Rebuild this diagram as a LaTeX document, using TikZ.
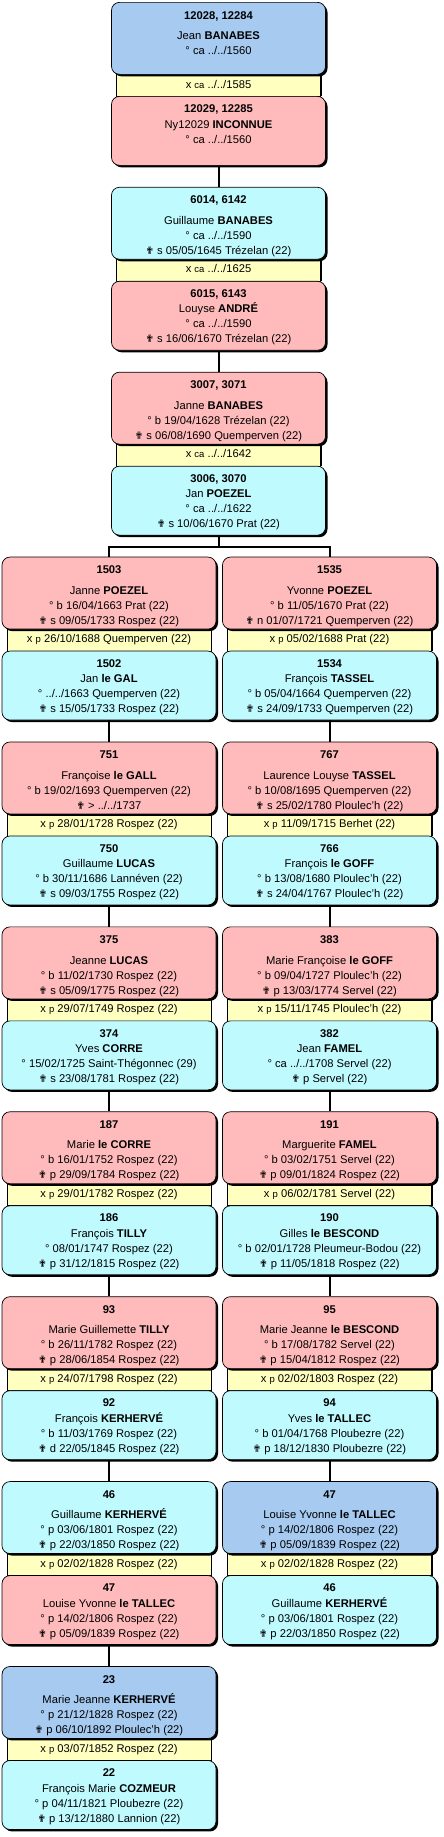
\documentclass[tikz,border=0pt]{standalone}
\usepackage{fontspec}
\setmainfont{Liberation Sans}
\newfontfamily\symfont{DejaVu Sans}
\usetikzlibrary{shadows}
\definecolor{cblue}{HTML}{A6CAF0}
\definecolor{cpink}{HTML}{FFBBBB}
\definecolor{ccyan}{HTML}{BFFAFF}
\definecolor{cyell}{HTML}{FFFFC0}
\newcommand\dth{{\symfont\fontsize{10}{10}\selectfont ✟}}
\newcommand\sm[1]{{\fontsize{9.5}{10}\selectfont #1}}
\tikzset{
 pbox/.style={draw=black, line width=0.7pt, rounded corners=8pt, minimum width=214pt, inner sep=0pt, anchor=north,
   general shadow={fill=black, shadow xshift=2pt, shadow yshift=-2pt}},
 upbox/.style={pbox, minimum height=72pt},
 lobox/.style={pbox, minimum height=69pt},
 mbar/.style={draw=black, line width=0.7pt, fill=cyell, minimum width=204pt, minimum height=22pt, inner sep=0pt, anchor=north,
   general shadow={fill=black, shadow xshift=1.2pt, shadow yshift=0pt}},
 txt/.style={font=\fontsize{11.2}{13}\selectfont, inner sep=0pt, anchor=base},
 conn/.style={line width=2pt, draw=black},
}
\newcommand\UpBox[8]{%
 \node[upbox, fill=#4] (#1) at (#2,#3) {};
 \node[txt] (#1-n) at (#2,#3+17) {\textbf{#5}};
 \node[txt] (#1-a) at (#2,#3+37.5) {#6};
 \node[txt] (#1-b) at (#2,#3+52.5) {#7};
 \if\relax\detokenize{#8}\relax\else\node[txt] (#1-c) at (#2,#3+67.5) {#8};\fi
}
\newcommand\LoBox[8]{%
 \node[lobox, fill=#4] (#1) at (#2,#3) {};
 \node[txt] (#1-n) at (#2,#3+16.5) {\textbf{#5}};
 \node[txt] (#1-a) at (#2,#3+32) {#6};
 \node[txt] (#1-b) at (#2,#3+47) {#7};
 \if\relax\detokenize{#8}\relax\else\node[txt] (#1-c) at (#2,#3+62) {#8};\fi
}
\newcommand\MBar[4]{%
 \node[mbar] (#1) at (#2,#3) {};
 \node[txt] (#1-t) at (#2,#3+14) {#4};
}
\begin{document}
\begin{tikzpicture}[x=1pt,y=-1pt]
\fill[white] (0,0) rectangle (444,1837);
\useasboundingbox (0,0) rectangle (444,1837);
% ---- centre column
\MBar{b12028}{218.5}{74}{x \sm{ca} ../../1585}
\UpBox{p12028}{218.5}{2}{cblue}{12028, 12284}{Jean \textbf{BANABES}}{° ca ../../1560}{}
\LoBox{p12029}{218.5}{96}{cpink}{12029, 12285}{Ny12029 \textbf{INCONNUE}}{° ca ../../1560}{}

\MBar{b6014}{218.5}{258.9}{x \sm{ca} ../../1625}
\UpBox{p6014}{218.5}{186.9}{ccyan}{6014, 6142}{Guillaume \textbf{BANABES}}{° ca ../../1590}{\dth{} s 05/05/1645 Trézelan (22)}
\LoBox{p6015}{218.5}{280.9}{cpink}{6015, 6143}{Louyse \textbf{ANDRÉ}}{° ca ../../1590}{\dth{} s 16/06/1670 Trézelan (22)}

\MBar{b3007}{218.5}{443.8}{x \sm{ca} ../../1642}
\UpBox{p3007}{218.5}{371.8}{cpink}{3007, 3071}{Janne \textbf{BANABES}}{° b 19/04/1628 Trézelan (22)}{\dth{} s 06/08/1690 Quemperven (22)}
\LoBox{p3006}{218.5}{465.8}{ccyan}{3006, 3070}{Jan \textbf{POEZEL}}{° ca ../../1622}{\dth{} s 10/06/1670 Prat (22)}

% ---- left column
\MBar{b1503}{109}{628.7}{x \sm{p} 26/10/1688 Quemperven (22)}
\UpBox{p1503}{109}{556.7}{cpink}{1503}{Janne \textbf{POEZEL}}{° b 16/04/1663 Prat (22)}{\dth{} s 09/05/1733 Rospez (22)}
\LoBox{p1502}{109}{650.7}{ccyan}{1502}{Jan \textbf{le GAL}}{° ../../1663 Quemperven (22)}{\dth{} s 15/05/1733 Rospez (22)}

\MBar{b751}{109}{813.6}{x \sm{p} 28/01/1728 Rospez (22)}
\UpBox{p751}{109}{741.6}{cpink}{751}{Françoise \textbf{le GALL}}{° b 19/02/1693 Quemperven (22)}{\dth{} > ../../1737}
\LoBox{p750}{109}{835.6}{ccyan}{750}{Guillaume \textbf{LUCAS}}{° b 30/11/1686 Lannéven (22)}{\dth{} s 09/03/1755 Rospez (22)}

\MBar{b375}{109}{998.5}{x \sm{p} 29/07/1749 Rospez (22)}
\UpBox{p375}{109}{926.5}{cpink}{375}{Jeanne \textbf{LUCAS}}{° b 11/02/1730 Rospez (22)}{\dth{} s 05/09/1775 Rospez (22)}
\LoBox{p374}{109}{1020.5}{ccyan}{374}{Yves \textbf{CORRE}}{° 15/02/1725 Saint-Thégonnec (29)}{\dth{} s 23/08/1781 Rospez (22)}

\MBar{b187}{109}{1183.4}{x \sm{p} 29/01/1782 Rospez (22)}
\UpBox{p187}{109}{1111.4}{cpink}{187}{Marie \textbf{le CORRE}}{° b 16/01/1752 Rospez (22)}{\dth{} p 29/09/1784 Rospez (22)}
\LoBox{p186}{109}{1205.4}{ccyan}{186}{François \textbf{TILLY}}{° 08/01/1747 Rospez (22)}{\dth{} p 31/12/1815 Rospez (22)}

\MBar{b93}{109}{1368.3}{x \sm{p} 24/07/1798 Rospez (22)}
\UpBox{p93}{109}{1296.3}{cpink}{93}{Marie Guillemette \textbf{TILLY}}{° b 26/11/1782 Rospez (22)}{\dth{} p 28/06/1854 Rospez (22)}
\LoBox{p92}{109}{1390.3}{ccyan}{92}{François \textbf{KERHERVÉ}}{° b 11/03/1769 Rospez (22)}{\dth{} d 22/05/1845 Rospez (22)}

\MBar{b46l}{109}{1553.2}{x \sm{p} 02/02/1828 Rospez (22)}
\UpBox{p46l}{109}{1481.2}{ccyan}{46}{Guillaume \textbf{KERHERVÉ}}{° p 03/06/1801 Rospez (22)}{\dth{} p 22/03/1850 Rospez (22)}
\LoBox{p47l}{109}{1575.2}{cpink}{47}{Louise Yvonne \textbf{le TALLEC}}{° p 14/02/1806 Rospez (22)}{\dth{} p 05/09/1839 Rospez (22)}

\MBar{b23}{109}{1738.1}{x \sm{p} 03/07/1852 Rospez (22)}
\UpBox{p23}{109}{1666.1}{cblue}{23}{Marie Jeanne \textbf{KERHERVÉ}}{° p 21/12/1828 Rospez (22)}{\dth{} p 06/10/1892 Ploulec'h (22)}
\LoBox{p22}{109}{1760.1}{ccyan}{22}{François Marie \textbf{COZMEUR}}{° p 04/11/1821 Ploubezre (22)}{\dth{} p 13/12/1880 Lannion (22)}

% ---- right column
\MBar{b1535}{329.5}{628.7}{x \sm{p} 05/02/1688 Prat (22)}
\UpBox{p1535}{329.5}{556.7}{cpink}{1535}{Yvonne \textbf{POEZEL}}{° b 11/05/1670 Prat (22)}{\dth{} n 01/07/1721 Quemperven (22)}
\LoBox{p1534}{329.5}{650.7}{ccyan}{1534}{François \textbf{TASSEL}}{° b 05/04/1664 Quemperven (22)}{\dth{} s 24/09/1733 Quemperven (22)}

\MBar{b767}{329.5}{813.6}{x \sm{p} 11/09/1715 Berhet (22)}
\UpBox{p767}{329.5}{741.6}{cpink}{767}{Laurence Louyse \textbf{TASSEL}}{° b 10/08/1695 Quemperven (22)}{\dth{} s 25/02/1780 Ploulec'h (22)}
\LoBox{p766}{329.5}{835.6}{ccyan}{766}{François \textbf{le GOFF}}{° b 13/08/1680 Ploulec'h (22)}{\dth{} s 24/04/1767 Ploulec'h (22)}

\MBar{b383}{329.5}{998.5}{x \sm{p} 15/11/1745 Ploulec'h (22)}
\UpBox{p383}{329.5}{926.5}{cpink}{383}{Marie Françoise \textbf{le GOFF}}{° b 09/04/1727 Ploulec'h (22)}{\dth{} p 13/03/1774 Servel (22)}
\LoBox{p382}{329.5}{1020.5}{ccyan}{382}{Jean \textbf{FAMEL}}{° ca ../../1708 Servel (22)}{\dth{} p Servel (22)}

\MBar{b191}{329.5}{1183.4}{x \sm{p} 06/02/1781 Servel (22)}
\UpBox{p191}{329.5}{1111.4}{cpink}{191}{Marguerite \textbf{FAMEL}}{° b 03/02/1751 Servel (22)}{\dth{} p 09/01/1824 Rospez (22)}
\LoBox{p190}{329.5}{1205.4}{ccyan}{190}{Gilles \textbf{le BESCOND}}{° b 02/01/1728 Pleumeur-Bodou (22)}{\dth{} p 11/05/1818 Rospez (22)}

\MBar{b95}{329.5}{1368.3}{x \sm{p} 02/02/1803 Rospez (22)}
\UpBox{p95}{329.5}{1296.3}{cpink}{95}{Marie Jeanne \textbf{le BESCOND}}{° b 17/08/1782 Servel (22)}{\dth{} p 15/04/1812 Rospez (22)}
\LoBox{p94}{329.5}{1390.3}{ccyan}{94}{Yves \textbf{le TALLEC}}{° b 01/04/1768 Ploubezre (22)}{\dth{} p 18/12/1830 Ploubezre (22)}

\MBar{b47r}{329.5}{1553.2}{x \sm{p} 02/02/1828 Rospez (22)}
\UpBox{p47r}{329.5}{1481.2}{cblue}{47}{Louise Yvonne \textbf{le TALLEC}}{° p 14/02/1806 Rospez (22)}{\dth{} p 05/09/1839 Rospez (22)}
\LoBox{p46r}{329.5}{1575.2}{ccyan}{46}{Guillaume \textbf{KERHERVÉ}}{° p 03/06/1801 Rospez (22)}{\dth{} p 22/03/1850 Rospez (22)}

% ---- connectors
\coordinate (fork) at (218.5,547);
\draw[conn] (p12029.south) -- (p6014.north);
\draw[conn] (p6015.south) -- (p3007.north);
\draw[conn] (p3006.south) -- (fork);
\draw[conn] (p1503.north) |- (fork) -| (p1535.north);
\draw[conn] (p1502.south) -- (p751.north);
\draw[conn] (p750.south) -- (p375.north);
\draw[conn] (p374.south) -- (p187.north);
\draw[conn] (p186.south) -- (p93.north);
\draw[conn] (p92.south) -- (p46l.north);
\draw[conn] (p47l.south) -- (p23.north);
\draw[conn] (p1534.south) -- (p767.north);
\draw[conn] (p766.south) -- (p383.north);
\draw[conn] (p382.south) -- (p191.north);
\draw[conn] (p190.south) -- (p95.north);
\draw[conn] (p94.south) -- (p47r.north);
\end{tikzpicture}
\end{document}
